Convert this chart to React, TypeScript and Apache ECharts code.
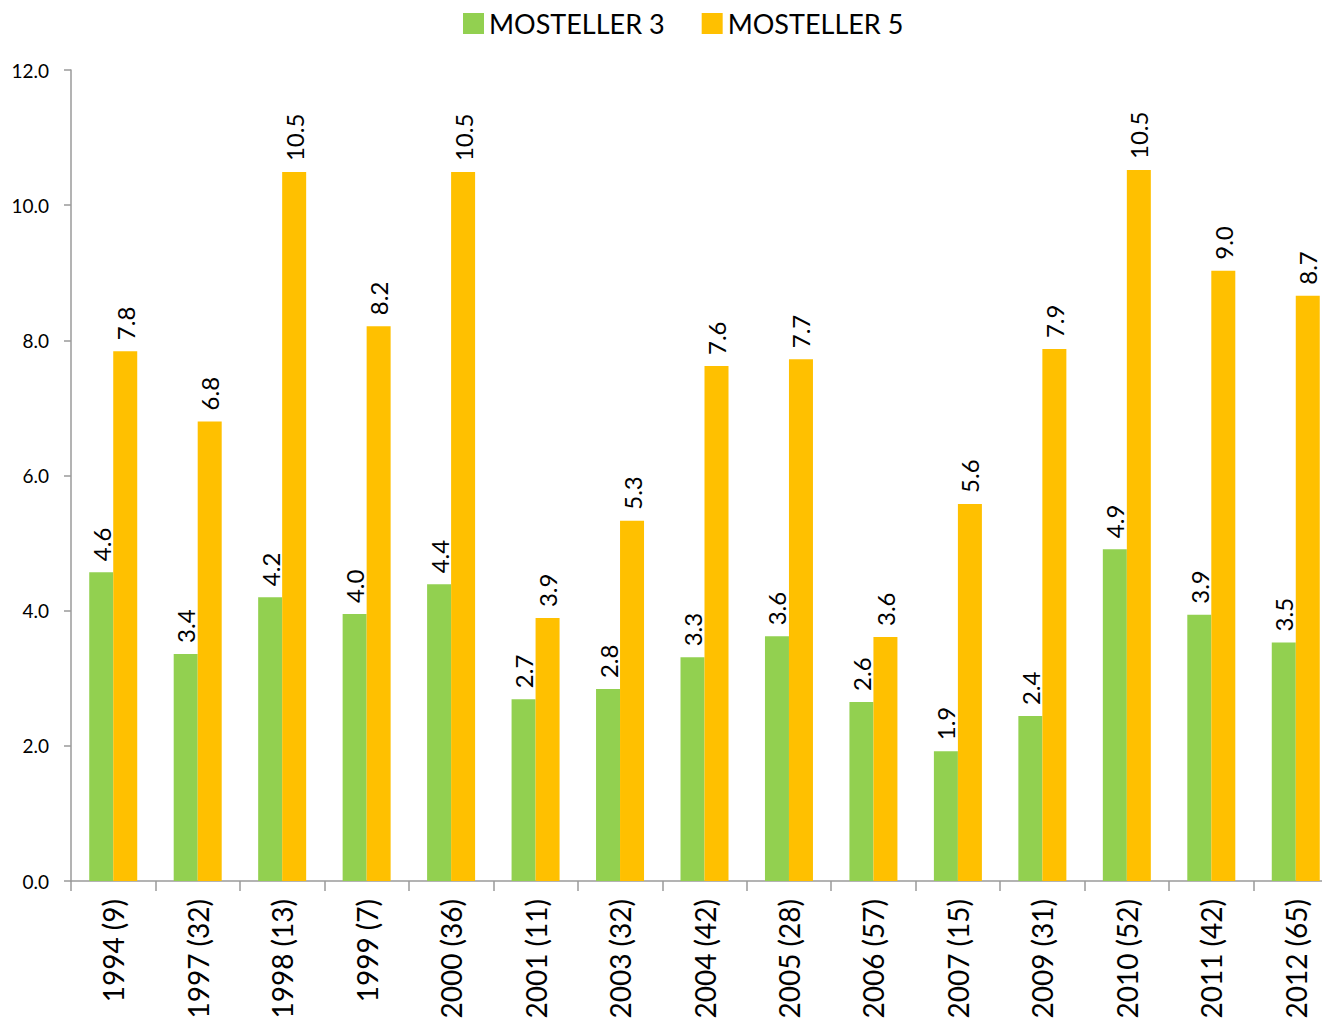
import React, { useEffect, useRef } from "react";
import * as echarts from "echarts";

const categories = [
  "1994 (9)", "1997 (32)", "1998 (13)", "1999 (7)", "2000 (36)", "2001 (11)", "2003 (32)",
  "2004 (42)", "2005 (28)", "2006 (57)", "2007 (15)", "2009 (31)", "2010 (52)", "2011 (42)", "2012 (65)",
];
const mosteller3 = [4.57, 3.36, 4.2, 3.95, 4.39, 2.69, 2.84, 3.31, 3.62, 2.65, 1.92, 2.44, 4.91, 3.94, 3.53];
const mosteller5 = [7.84, 6.8, 10.49, 8.21, 10.49, 3.89, 5.33, 7.62, 7.72, 3.61, 5.58, 7.87, 10.52, 9.03, 8.66];
const seriesNames = ["MOSTELLER 3", "MOSTELLER 5"];
const colors = ["#92D050", "#FFC000"];

const FONT = "Lato, 'Noto Sans', sans-serif";

export default function App() {
  const ref = useRef<HTMLDivElement>(null);
  useEffect(() => {
    if (!ref.current) return;
    const chart = echarts.init(ref.current, null, { renderer: "svg" });
    const label = {
      show: true,
      position: "top",
      rotate: 90,
      align: "left",
      verticalAlign: "middle",
      distance: 11,
      fontFamily: FONT,
      fontSize: 24,
      color: "#000",
      formatter: (p: any) => Number(p.value).toFixed(1),
    };
    chart.setOption({
      animation: false,
      textStyle: { fontFamily: FONT },
      legend: {
        top: 2,
        left: 455,
        padding: 0,
        itemWidth: 21,
        itemHeight: 21,
        itemGap: 37,
        icon: "rect",
        textStyle: { fontFamily: FONT, fontSize: 27, lineHeight: 26, color: "#000", padding: [0, 0, 0, 0] },
        data: seriesNames,
      },
      grid: { left: 63, right: 1, top: 62, bottom: 149, containLabel: false },
      xAxis: {
        type: "category",
        data: categories,
        axisLine: { show: true, lineStyle: { color: "#9a9a9a", width: 1.5 } },
        axisTick: { show: true, length: 10, alignWithLabel: false, lineStyle: { color: "#9a9a9a", width: 1.5 } },
        axisLabel: { rotate: 90, margin: 18, fontFamily: FONT, fontSize: 28, color: "#000", interval: 0 },
      },
      yAxis: {
        type: "value",
        min: 0,
        max: 12,
        interval: 2,
        splitLine: { show: false },
        axisLine: { show: true, lineStyle: { color: "#9a9a9a", width: 1.5 } },
        axisTick: { show: true, length: 7, lineStyle: { color: "#9a9a9a", width: 1.5 } },
        axisLabel: { margin: 22, fontFamily: FONT, fontSize: 19, color: "#000", formatter: (v: number) => v.toFixed(1) },
      },
      series: [
        { name: seriesNames[0], type: "bar", data: mosteller3, barWidth: 24, barGap: "0%", itemStyle: { color: colors[0] }, label },
        { name: seriesNames[1], type: "bar", data: mosteller5, barWidth: 24, barGap: "0%", itemStyle: { color: colors[1] }, label },
      ],
    });
    return () => chart.dispose();
  }, []);
  return (
    <div style={{ width: 1322, height: 1022, overflow: "hidden" }}>
      <div ref={ref} style={{ width: 1331, height: 1022 }} />
    </div>
  );
}
